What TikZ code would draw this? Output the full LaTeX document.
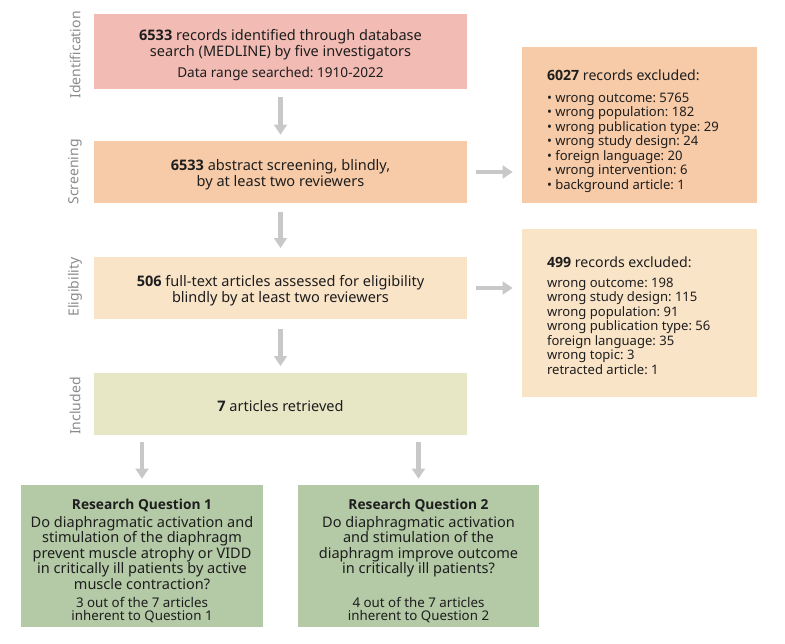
\documentclass[tikz,border=0pt]{standalone}
\usepackage{fontspec}
\setmainfont{Noto Sans}
\newfontfamily\boldsans{Open Sans}
\newcommand\bnum[1]{{\boldsans\bfseries #1}}
\usetikzlibrary{arrows.meta}
\definecolor{cid}{HTML}{F2BCB4}
\definecolor{cscr}{HTML}{F7CBA8}
\definecolor{celig}{HTML}{FAE4C8}
\definecolor{cincl}{HTML}{E7E6C5}
\definecolor{crq}{HTML}{B4C9A6}
\definecolor{carrow}{HTML}{C8C8C8}
\definecolor{ctxt}{HTML}{1E1E1E}
\definecolor{cside}{HTML}{8A8A8A}
\begin{document}
\frenchspacing
\begin{tikzpicture}[x=0.75pt,y=-0.75pt,
  mainbox/.style={inner sep=0pt, minimum width=279.75pt, minimum height=46.5pt},
  exclbox/.style={inner sep=0pt, minimum width=176.25pt},
  rqbox/.style={inner sep=0pt, minimum width=181.5pt, minimum height=106.5pt},
  txt/.style={inner sep=0pt, align=center, text=ctxt,
    font=\fontsize{10.9}{12}\selectfont},
  listtxt/.style={inner sep=0pt, align=left, text=ctxt,
    font=\fontsize{9.8}{10.9}\selectfont},
  rqtxt/.style={txt, font=\fontsize{10.9}{11.7}\selectfont},
  side/.style={rotate=90, text=cside, font=\fontsize{10.5}{12}\selectfont},
  flow/.style={draw=carrow, line width=3.2pt,
    -{Triangle[width=9.5pt,length=7.5pt]}}
]
\useasboundingbox (0,0) rectangle (785,643);

% boxes
\node[mainbox, fill=cid, minimum height=56.25pt] (id) at (280.5,51.5) {};
\node[mainbox, fill=cscr] (scr) at (280.5,172) {};
\node[mainbox, fill=celig] (elig) at (280.5,288) {};
\node[mainbox, fill=cincl] (incl) at (280.5,404) {};
\node[exclbox, fill=cscr, minimum height=117pt] (ex1) at (639.5,125) {};
\node[exclbox, fill=celig, minimum height=126pt] (ex2) at (639.5,313) {};
\node[rqbox, fill=crq] (rq1) at (142,556) {};
\node[rqbox, fill=crq, minimum width=180.75pt] (rq2) at (418.5,556) {};

% texts
\node[txt] (idt) at ([yshift=-2.6pt]id.center)
  {\bnum{6533} records identified through database\\
   search (MEDLINE) by five investigators\\[3.8pt]
   {\fontsize{10.2}{12}\selectfont Data range searched: 1910-2022}};
\node[txt] (scrt) at ([yshift=-2.4pt]scr.center)
  {\bnum{6533} abstract screening, blindly,\\ by at least two reviewers};
\node[txt] (eligt) at ([yshift=-2pt]elig.center)
  {\bnum{506} full-text articles assessed for eligibility\\ blindly by at least two reviewers};
\node[txt] (inclt) at ([yshift=-1.6pt]incl.center)
  {\bnum{7} articles retrieved};

% side labels
\node[side] (lid) at (75,55) {Identification};
\node[side] (lscr) at (75,172) {Screening};
\node[side] (lelig) at (75,287) {Eligibility};
\node[side] (lincl) at (75,406) {Included};

% exclusion texts
\node[listtxt, anchor=west] (ex1t) at ([xshift=18.75pt,yshift=-4.4pt]ex1.west)
  {{\fontsize{10.6}{12}\selectfont\bnum{6027} records excluded:}\\[5.6pt]
   • wrong outcome: 5765\\
   • wrong population: 182\\
   • wrong publication type: 29\\
   • wrong study design: 24\\
   • foreign language: 20\\
   • wrong intervention: 6\\
   • background article: 1};
\node[listtxt, anchor=west] (ex2t) at ([xshift=18.75pt,yshift=-2.2pt]ex2.west)
  {{\fontsize{10.6}{12}\selectfont\bnum{499} records excluded:}\\[3.6pt]
   wrong outcome: 198\\
   wrong study design: 115\\
   wrong population: 91\\
   wrong publication type: 56\\
   foreign language: 35\\
   wrong topic: 3\\
   retracted article: 1};

% research question texts
\node[rqtxt] (rq1t) at ([yshift=-3.8pt]rq1.center)
  {{\fontsize{10.3}{12}\selectfont\boldsans\bfseries Research Question 1}\\[1.6pt]
   Do diaphragmatic activation and\\
   stimulation of the diaphragm\\
   prevent muscle atrophy or VIDD\\
   in critically ill patients by active\\
   muscle contraction?\\[1.8pt]
   {\fontsize{10}{11}\selectfont 3 out of the 7 articles}\\[-1.7pt]
   {\fontsize{10}{11}\selectfont inherent to Question 1}};
\node[rqtxt] (rq2t) at ([yshift=-3.8pt]rq2.center)
  {{\fontsize{10.3}{12}\selectfont\boldsans\bfseries Research Question 2}\\[1.6pt]
   Do diaphragmatic activation\\
   and stimulation of the\\
   diaphragm improve outcome\\
   in critically ill patients?\\[13.5pt]
   {\fontsize{10}{11}\selectfont 4 out of the 7 articles}\\[-1.7pt]
   {\fontsize{10}{11}\selectfont inherent to Question 2}};

% arrows
\draw[flow, shorten <=6pt, shorten >=4.5pt] (id) -- (scr);
\draw[flow, shorten <=6.5pt, shorten >=6.5pt] (scr) -- (elig);
\draw[flow, shorten <=7pt, shorten >=5pt] (elig) -- (incl);
\draw[flow, shorten <=6.75pt, shorten >=6.75pt] (scr.east) -- (scr.east -| ex1.west);
\draw[flow, shorten <=6.75pt, shorten >=6.75pt] (elig.east) -- (elig.east -| ex2.west);
\draw[flow, shorten <=5.25pt, shorten >=4.5pt] (rq1.north |- incl.south) -- (rq1.north);
\draw[flow, shorten <=5.25pt, shorten >=4.5pt] (rq2.north |- incl.south) -- (rq2.north);
\end{tikzpicture}
\end{document}
